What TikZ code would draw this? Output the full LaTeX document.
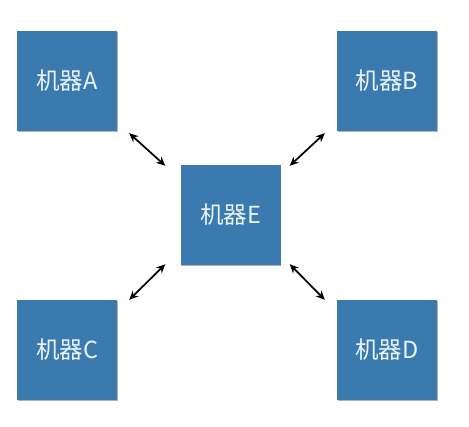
\documentclass[tikz,border=0pt]{standalone}
\usepackage{fontspec}
\newfontfamily\cjk{Noto Sans CJK SC}
\usetikzlibrary{arrows.meta,shadows}
\definecolor{boxblue}{RGB}{58,122,174}
\definecolor{txtwhite}{RGB}{236,245,252}
\begin{document}
\begin{tikzpicture}[x=1pt,y=-1pt,
  machine/.style={rectangle,fill=boxblue,minimum size=100pt,inner sep=0pt,
    text=txtwhite,font=\cjk\fontsize{23.5}{27}\selectfont,
    drop shadow={shadow xshift=0.8pt,shadow yshift=-1.5pt,opacity=0.3,fill=black}},
  link/.style={line width=1.7pt,{Stealth[length=9pt,width=8pt]}-{Stealth[length=9pt,width=8pt]}}]
\useasboundingbox (0,0) rectangle (469,427);
\node[machine] (A) at (67,81) {机器A};
\node[machine] (B) at (387,81) {机器B};
\node[machine] (E) at (230.5,215) {机器E};
\node[machine] (C) at (67,350) {机器C};
\node[machine] (D) at (387,350) {机器D};
\draw[link] ([shift={(12,2)}]A.south east) -- ([shift={(-15,1)}]E.north west);
\draw[link] ([shift={(-12,2)}]B.south west) -- ([shift={(9,1)}]E.north east);
\draw[link] ([shift={(-15,-1)}]E.south west) -- ([shift={(12,0)}]C.north east);
\draw[link] ([shift={(9,-1)}]E.south east) -- ([shift={(-12,0)}]D.north west);
\end{tikzpicture}
\end{document}
